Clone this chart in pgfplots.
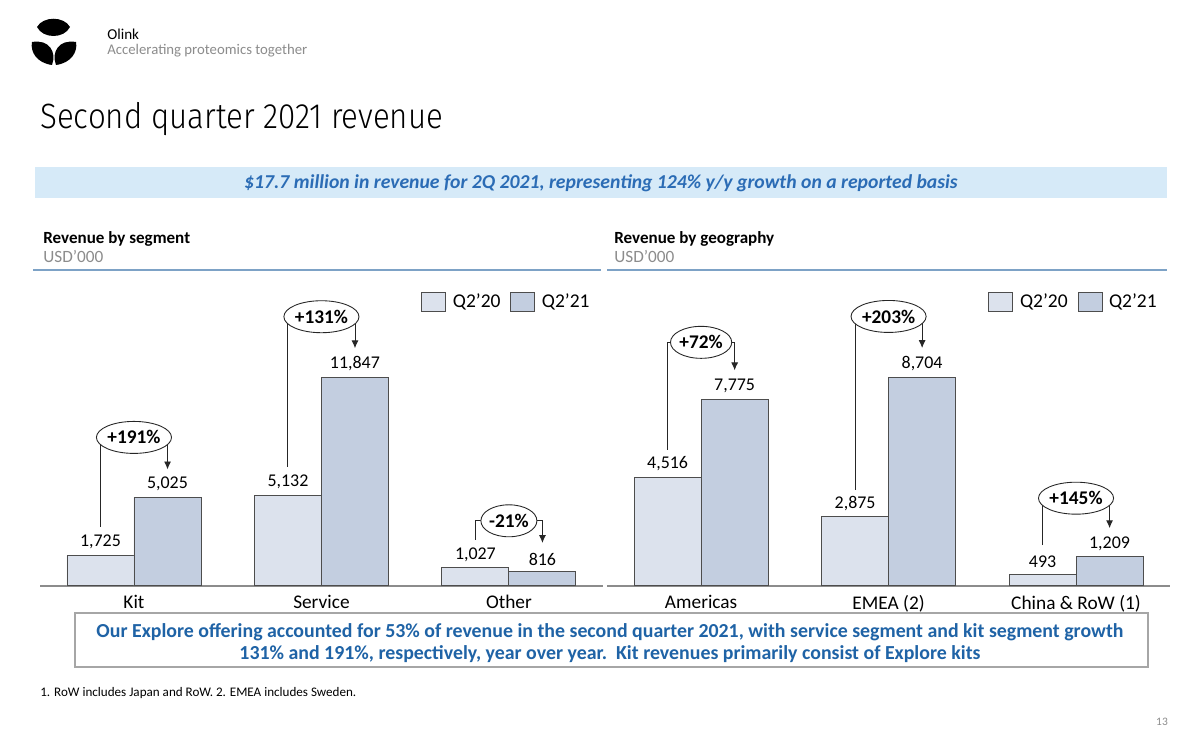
\documentclass[border=0pt]{standalone}
\usepackage{fontspec}
\setmainfont{Carlito}
\newfontfamily\titlefont[FakeStretch=0.89]{Fira Sans Light}
\usepackage{pgfplots}
\pgfplotsset{compat=1.18}
\usetikzlibrary{arrows.meta,shapes.geometric}
\definecolor{cA}{HTML}{DCE2ED}
\definecolor{cB}{HTML}{C3CEE0}
\definecolor{bardraw}{HTML}{4D4D4D}
\definecolor{bannerfill}{HTML}{D6EAF8}
\definecolor{bannertext}{HTML}{2B6CB5}
\definecolor{boxtext}{HTML}{1F63A6}
\definecolor{boxborder}{HTML}{A6A6A6}
\definecolor{secline}{HTML}{7DA2C6}
\definecolor{graytext}{HTML}{8C8C8C}
\newcommand{\fs}[1]{\fontsize{#1}{#1}\selectfont}
\tikzset{
  growth/.style={line width=0.55pt, draw=black!85, -{Latex[length=4.5pt,width=4pt]}},
  gell/.style={ellipse, draw=black!85, line width=0.5pt, fill=white, inner xsep=0pt, inner ysep=2.6pt, font=\bfseries\fs{11}},
}
\pgfplotsset{
  revaxis/.style={
    anchor=south west, scale only axis, width=11.25cm, height=6.12cm,
    xmin=-0.5, xmax=2.5, ymin=0,
    axis x line=bottom, axis y line=none,
    x axis line style={-, draw=black!45, line width=0.8pt},
    xtick={0,1,2}, major tick length=0pt,
    xticklabel style={font=\fs{11}, yshift=-1.6pt},
    ybar=0pt, bar width=1.34cm,
    every axis plot/.append style={draw=bardraw, line width=0.5pt},
    nodes near coords={\pgfmathprintnumber[fixed,precision=0,1000 sep={,}]{\pgfplotspointmeta}},
    nodes near coords style={font=\fs{10.2}, text=black},
    /pgf/number format/assume math mode=true,
    clip=false,
    legend columns=2,
    legend style={draw=none, fill=none, at={(0.677,0.967)}, anchor=north west, font=\fs{11.1}, inner sep=0pt,
      /tikz/every even column/.append style={column sep=3.6pt},
      /tikz/every odd column/.append style={column sep=1.8pt}},
  },
  boxlegend/.style={legend image code/.code={\draw[draw=bardraw,line width=0.5pt,fill=#1] (0cm,-0.19cm) rectangle (0.48cm,0.19cm);}},
}
\begin{document}
\begin{tikzpicture}[x=0.02cm,y=-0.02cm]
\path[fill=white] (0,0) rectangle (1200,750);
% logo
\fill[black] (37,27) .. controls (43,16) and (64,16) .. (70,27) .. controls (64,39) and (43,39) .. cycle;
\fill[black] (32,42) .. controls (49,39) and (57,52) .. (52,65) .. controls (37,63) and (30,52) .. cycle;
\fill[black] (76,42) .. controls (59,39) and (51,52) .. (56,65) .. controls (71,63) and (78,52) .. cycle;
\node[anchor=base west, inner sep=0, font=\fs{8.6}] at (107,40) {Olink};
\node[anchor=base west, inner sep=0, font=\fs{8.4}, text=graytext] at (107,55) {Accelerating proteomics together};
% title
\node[anchor=base west, inner sep=0, font=\titlefont\fs{20}] at (40,129) {Second quarter 2021 revenue};
% banner
\fill[bannerfill] (35,167) rectangle (1167,198);
\node[font=\bfseries\itshape\fs{11.2}, text=bannertext] at (601,183) {\$17.7 million in revenue for 2Q 2021, representing 124\% y/y growth on a reported basis};
% section headers
\node[anchor=base west, inner sep=0, font=\bfseries\fs{9.7}] at (43,243) {Revenue by segment};
\node[anchor=base west, inner sep=0, font=\fs{9.8}, text=graytext] at (43,262) {USD’000};
\node[anchor=base west, inner sep=0, font=\bfseries\fs{9.7}] at (614,243) {Revenue by geography};
\node[anchor=base west, inner sep=0, font=\fs{9.8}, text=graytext] at (614,262) {USD’000};
\draw[secline, line width=0.04cm] (33,270) -- (601,270);
\draw[secline, line width=0.04cm] (607,270) -- (1167,270);

% left chart
\begin{axis}[revaxis, at={(0.805cm,-11.72cm)}, ymax=17376, xticklabels={Kit,Service,Other}]
\addplot[fill=cA, boxlegend=cA] coordinates {(0,1725) (1,5132) (2,1027)};
\addplot[fill=cB, boxlegend=cB] coordinates {(0,5025) (1,11847) (2,816)};
\legend{Q2’20, Q2’21}
\draw[growth] (axis cs:-0.179,3372) |- (axis cs:0.179,8433) -- (axis cs:0.179,6615);
\node[gell] at (axis cs:0,8433) {+191\%};
\draw[growth] (axis cs:0.821,6779) |- (axis cs:1.179,15287) -- (axis cs:1.179,13497);
\node[gell] at (axis cs:1,15287) {+131\%};
\draw[growth] (axis cs:1.821,2627) |- (axis cs:2.179,3697) -- (axis cs:2.179,2436);
\node[gell] at (axis cs:2,3697) {-21\%};
\end{axis}

% right chart
\begin{axis}[revaxis, at={(12.15cm,-11.72cm)}, ymax=12750, xticklabels={Americas,EMEA (2),China \& RoW (1)}]
\addplot[fill=cA, boxlegend=cA] coordinates {(0,4516) (1,2875) (2,493)};
\addplot[fill=cB, boxlegend=cB] coordinates {(0,7775) (1,8704) (2,1209)};
\legend{Q2’20, Q2’21}
\draw[growth] (axis cs:-0.179,5683) |- (axis cs:0.179,10150) -- (axis cs:0.179,8983);
\node[gell] at (axis cs:0,10150) {+72\%};
\draw[growth] (axis cs:0.821,4000) |- (axis cs:1.179,11229) -- (axis cs:1.179,9912);
\node[gell] at (axis cs:1,11229) {+203\%};
\draw[growth] (axis cs:1.821,1701) |- (axis cs:2.179,3655) -- (axis cs:2.179,2405);
\node[gell] at (axis cs:2,3655) {+145\%};
\end{axis}

% bottom box
\draw[boxborder, line width=0.04cm] (75,613) rectangle (1148,667);
\node[font=\bfseries\fs{11.3}, text=boxtext, align=center] at (610,643) {Our Explore offering accounted for 53\% of revenue in the second quarter 2021, with service segment and kit segment growth\\[1pt] 131\% and 191\%, respectively, year over year.\ \ Kit revenues primarily consist of Explore kits};
% footnote
\node[anchor=base west, inner sep=0, font=\fs{7.45}] at (40,696) {1. RoW includes Japan and RoW. 2. EMEA includes Sweden.};
\node[font=\fs{6.5}, text=graytext] at (1162,722) {13};
\end{tikzpicture}
\end{document}
